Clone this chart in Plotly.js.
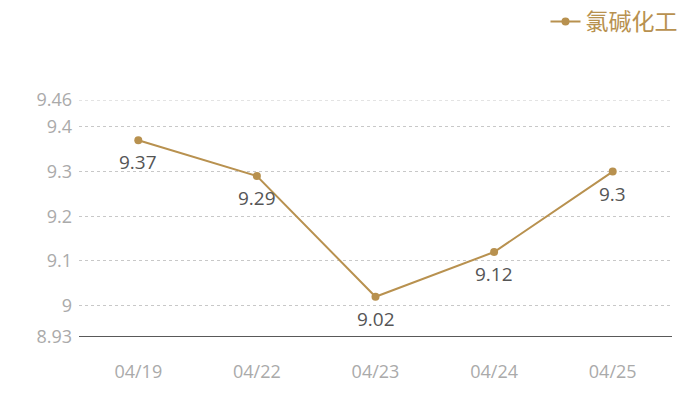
<!DOCTYPE html>
<html><head><meta charset="utf-8">
<script src="https://cdn.plot.ly/plotly-3.0.1.min.js"></script>
<style>html,body{margin:0;padding:0;background:#fff}#chart{width:700px;height:400px}</style>
</head><body><div id="chart"></div>
<script>
const dates = ["04/19", "04/22", "04/23", "04/24", "04/25"];
const values = [9.37, 9.29, 9.02, 9.12, 9.3];
const seriesName = "氯碱化工";
const yTicks = [8.93, 9, 9.1, 9.2, 9.3, 9.4, 9.46];
const yTickText = ["8.93", "9", "9.1", "9.2", "9.3", "9.4", "9.46"];
const yMin = 8.93, yMax = 9.46;
const gold = "#b8914f";
const font = "'Open Sans', 'Noto Sans CJK SC', sans-serif";

const labelAnnotations = dates.map((d, i) => ({
  x: d, y: values[i], xref: "x", yref: "y", text: String(values[i]),
  showarrow: false, yshift: -22, font: {size: 19, color: "#555555", family: font}
}));

Plotly.newPlot("chart", [{
  x: dates, y: values, name: seriesName, type: "scatter",
  mode: "lines+markers",
  line: {color: gold, width: 2},
  marker: {color: gold, size: 8}
}], {
  width: 700, height: 400,
  margin: {l: 79, r: 28, t: 100, b: 63},
  paper_bgcolor: "#fff", plot_bgcolor: "#fff",
  font: {family: font},
  showlegend: true,
  legend: {xref: "container", yref: "container", x: 0.975, xanchor: "right", y: 1.0, yanchor: "top",
           orientation: "h", font: {size: 23, color: gold, family: "'Noto Sans CJK SC', sans-serif"},
           bgcolor: "rgba(0,0,0,0)", itemwidth: 30},
  xaxis: {type: "category", range: [-0.5, 4.5], showgrid: false, zeroline: false,
          showline: false, ticks: "", ticklabelstandoff: 22,
          tickfont: {size: 18, color: "#aaaaaa", family: font}},
  yaxis: {range: [yMin, yMax], tickvals: yTicks, ticktext: yTickText,
          showgrid: true, gridcolor: "#c8c8c8", griddash: "dot", gridwidth: 1,
          zeroline: false, showline: false, ticks: "", ticklabelstandoff: 6,
          tickfont: {size: 18, color: "#aaaaaa", family: font}},
  shapes: [
    {type: "line", xref: "paper", yref: "y", x0: 0, x1: 1, y0: yMax, y1: yMax, layer: "below",
     line: {color: "#c8c8c8", width: 1, dash: "dot"}},
    {type: "line", xref: "paper", yref: "y", x0: 0, x1: 1, y0: yMin, y1: yMin, layer: "above",
     line: {color: "#222222", width: 1.3}}],
  annotations: labelAnnotations
}, {displayModeBar: false});
</script></body></html>
